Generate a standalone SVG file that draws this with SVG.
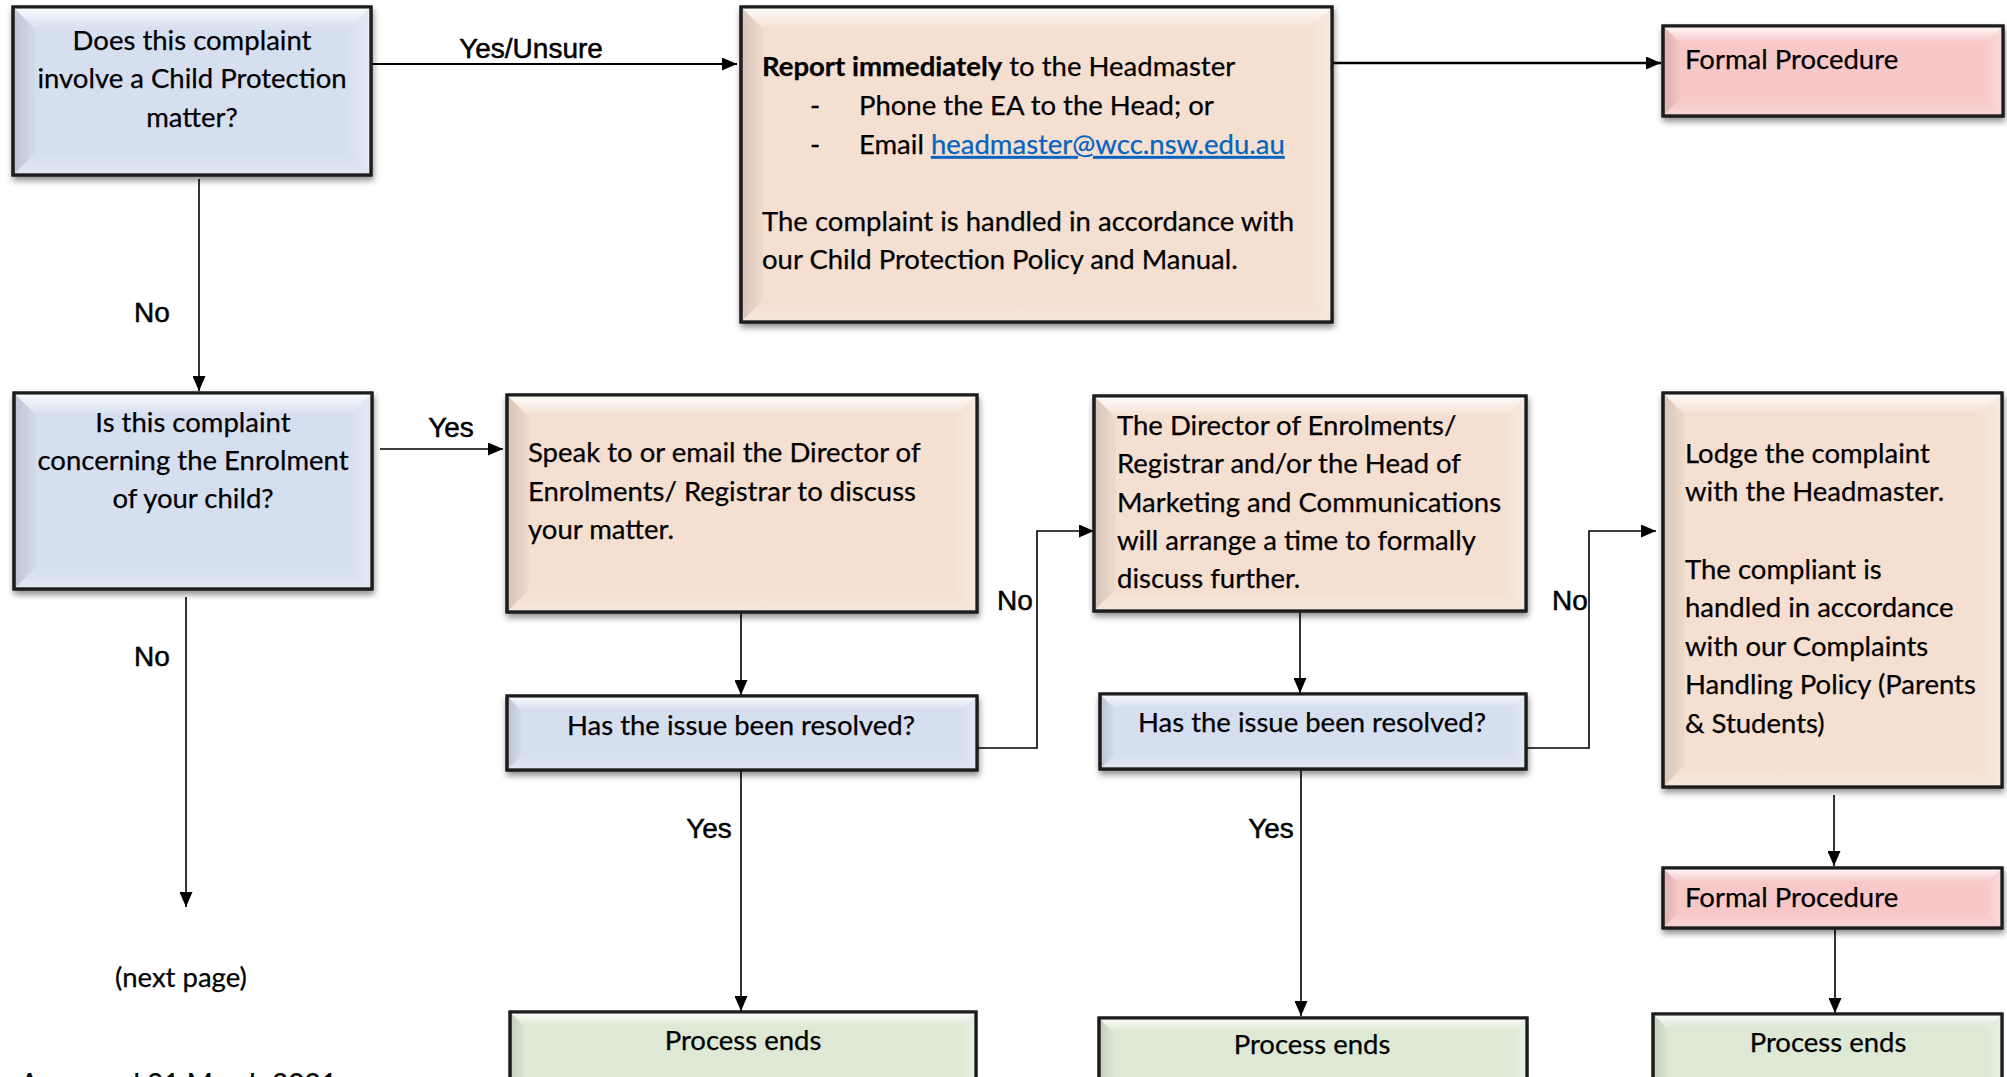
<svg xmlns="http://www.w3.org/2000/svg" width="2007" height="1077" viewBox="0 0 2007 1077">
<style>
.box{stroke:#1c1c1c;stroke-width:3;}
.blue{fill:#d6dff0;}
.peach{fill:#f4dfd0;}
.pink{fill:#f8c8c8;}
.green{fill:#dde9d5;}
.bt{fill:url(#gTop);}
.bl{fill:url(#gLeft);}
.br{fill:url(#gRight);}
.bb{fill:url(#gBot);}
.t{font-family:Lato,"Liberation Sans",sans-serif;font-size:27.5px;fill:#000;stroke:#000;stroke-width:0.25;}
.c{text-anchor:middle;}
.lbl{font-family:"Liberation Sans",Arial,sans-serif;font-size:28px;fill:#000;stroke:#000;stroke-width:0.5;text-anchor:middle;}
.ln{fill:none;stroke:#000;stroke-width:1.6;marker-end:url(#ah);}
.link{fill:#0563c1;stroke:#0563c1;text-decoration:underline;}
</style>
<defs>
<linearGradient id="gTop" x1="0" y1="0" x2="0" y2="1"><stop offset="0" stop-color="#fff" stop-opacity="0.9"/><stop offset="1" stop-color="#fff" stop-opacity="0"/></linearGradient>
<linearGradient id="gLeft" x1="0" y1="0" x2="1" y2="0"><stop offset="0" stop-color="#000" stop-opacity="0.12"/><stop offset="1" stop-color="#000" stop-opacity="0.02"/></linearGradient>
<linearGradient id="gRight" x1="1" y1="0" x2="0" y2="0"><stop offset="0" stop-color="#fff" stop-opacity="0.35"/><stop offset="1" stop-color="#fff" stop-opacity="0.05"/></linearGradient>
<linearGradient id="gBot" x1="0" y1="1" x2="0" y2="0"><stop offset="0" stop-color="#fff" stop-opacity="0.25"/><stop offset="1" stop-color="#fff" stop-opacity="0"/></linearGradient>
<filter id="sh" x="-5%" y="-5%" width="112%" height="125%"><feDropShadow dx="1" dy="4" stdDeviation="3" flood-color="#000" flood-opacity="0.45"/></filter>
<marker id="ah" markerWidth="15" markerHeight="13" refX="15" refY="6.5" orient="auto" markerUnits="userSpaceOnUse"><path d="M0,0 L15,6.5 L0,13 z" fill="#000"/></marker>
</defs>
<rect width="2007" height="1077" fill="#fff"/>

<g id="connectors">
<path class="ln" d="M371,64 H737" style="stroke-width:2"/>
<path class="ln" d="M1332,63 H1661" style="stroke-width:2.5"/>
<path class="ln" d="M199,179 V391"/>
<path class="ln" d="M380,449 H503"/>
<path class="ln" d="M186,597 V907"/>
<path class="ln" d="M741,612 V695"/>
<path class="ln" d="M977,748 H1037 V531 H1094"/>
<path class="ln" d="M741,770 V1011"/>
<path class="ln" d="M1300,611 V693"/>
<path class="ln" d="M1526,748 H1589 V531 H1656"/>
<path class="ln" d="M1301,769 V1016"/>
<path class="ln" d="M1834,795 V866"/>
<path class="ln" d="M1835,928 V1013"/>
<text class="lbl" x="531" y="58">Yes/Unsure</text>
<text class="lbl" x="152" y="322">No</text>
<text class="lbl" x="451" y="437">Yes</text>
<text class="lbl" x="152" y="666">No</text>
<text class="lbl" x="1015" y="610">No</text>
<text class="lbl" x="709" y="838">Yes</text>
<text class="lbl" x="1570" y="610">No</text>
<text class="lbl" x="1271" y="838">Yes</text>
</g>

<g id="nodeA">
<rect class="box blue" x="13" y="7" width="358" height="168" filter="url(#sh)"/>
<polygon class="bt" points="13,7 371,7 349,29 35,29"/>
<polygon class="bl" points="13,7 35,29 35,153 13,175"/>
<polygon class="br" points="371,7 371,175 349,153 349,29"/>
<polygon class="bb" points="13,175 35,153 349,153 371,175"/>
<rect x="13" y="7" width="358" height="168" fill="none" class="box"/>
<text class="t c" x="192" y="50">Does this complaint</text>
<text class="t c" x="192" y="88">involve a Child Protection</text>
<text class="t c" x="192" y="127">matter?</text>
</g>

<g id="nodeB">
<rect class="box peach" x="741" y="7" width="591" height="315" filter="url(#sh)"/>
<polygon class="bt" points="741,7 1332,7 1310,29 763,29"/>
<polygon class="bl" points="741,7 763,29 763,300 741,322"/>
<polygon class="br" points="1332,7 1332,322 1310,300 1310,29"/>
<polygon class="bb" points="741,322 763,300 1310,300 1332,322"/>
<rect x="741" y="7" width="591" height="315" fill="none" class="box"/>
<text class="t" x="762" y="76"><tspan font-weight="bold">Report immediately</tspan> to the Headmaster</text>
<text class="t" x="810" y="115">-</text>
<text class="t" x="859" y="115">Phone the EA to the Head; or</text>
<text class="t" x="810" y="154">-</text>
<text class="t" x="859" y="154">Email <tspan class="link">headmaster@wcc.nsw.edu.au</tspan></text>
<text class="t" x="762" y="231">The complaint is handled in accordance with</text>
<text class="t" x="762" y="269">our Child Protection Policy and Manual.</text>
</g>

<g id="nodeC">
<rect class="box pink" x="1663" y="26" width="340" height="90" filter="url(#sh)"/>
<polygon class="bt" points="1663,26 2003,26 1987,42 1679,42"/>
<polygon class="bl" points="1663,26 1679,42 1679,100 1663,116"/>
<polygon class="br" points="2003,26 2003,116 1987,100 1987,42"/>
<polygon class="bb" points="1663,116 1679,100 1987,100 2003,116"/>
<rect x="1663" y="26" width="340" height="90" fill="none" class="box"/>
<text class="t" x="1685" y="69">Formal Procedure</text>
</g>

<g id="nodeD">
<rect class="box blue" x="14" y="393" width="358" height="196" filter="url(#sh)"/>
<polygon class="bt" points="14,393 372,393 350,415 36,415"/>
<polygon class="bl" points="14,393 36,415 36,567 14,589"/>
<polygon class="br" points="372,393 372,589 350,567 350,415"/>
<polygon class="bb" points="14,589 36,567 350,567 372,589"/>
<rect x="14" y="393" width="358" height="196" fill="none" class="box"/>
<text class="t c" x="193" y="432">Is this complaint</text>
<text class="t c" x="193" y="470">concerning the Enrolment</text>
<text class="t c" x="193" y="508">of your child?</text>
</g>

<g id="nodeE">
<rect class="box peach" x="507" y="395" width="470" height="217" filter="url(#sh)"/>
<polygon class="bt" points="507,395 977,395 955,417 529,417"/>
<polygon class="bl" points="507,395 529,417 529,590 507,612"/>
<polygon class="br" points="977,395 977,612 955,590 955,417"/>
<polygon class="bb" points="507,612 529,590 955,590 977,612"/>
<rect x="507" y="395" width="470" height="217" fill="none" class="box"/>
<text class="t" x="528" y="462">Speak to or email the Director of</text>
<text class="t" x="528" y="501">Enrolments/ Registrar to discuss</text>
<text class="t" x="528" y="539">your matter.</text>
</g>

<g id="nodeF1">
<rect class="box blue" x="507" y="696" width="470" height="74" filter="url(#sh)"/>
<polygon class="bt" points="507,696 977,696 963,710 521,710"/>
<polygon class="bl" points="507,696 521,710 521,756 507,770"/>
<polygon class="br" points="977,696 977,770 963,756 963,710"/>
<polygon class="bb" points="507,770 521,756 963,756 977,770"/>
<rect x="507" y="696" width="470" height="74" fill="none" class="box"/>
<text class="t c" x="741" y="735">Has the issue been resolved?</text>
</g>

<g id="nodeH">
<rect class="box peach" x="1094" y="396" width="432" height="215" filter="url(#sh)"/>
<polygon class="bt" points="1094,396 1526,396 1504,418 1116,418"/>
<polygon class="bl" points="1094,396 1116,418 1116,589 1094,611"/>
<polygon class="br" points="1526,396 1526,611 1504,589 1504,418"/>
<polygon class="bb" points="1094,611 1116,589 1504,589 1526,611"/>
<rect x="1094" y="396" width="432" height="215" fill="none" class="box"/>
<text class="t" x="1117" y="435">The Director of Enrolments/</text>
<text class="t" x="1117" y="473">Registrar and/or the Head of</text>
<text class="t" x="1117" y="512">Marketing and Communications</text>
<text class="t" x="1117" y="550">will arrange a time to formally</text>
<text class="t" x="1117" y="588">discuss further.</text>
</g>

<g id="nodeF2">
<rect class="box blue" x="1100" y="694" width="426" height="75" filter="url(#sh)"/>
<polygon class="bt" points="1100,694 1526,694 1512,708 1114,708"/>
<polygon class="bl" points="1100,694 1114,708 1114,755 1100,769"/>
<polygon class="br" points="1526,694 1526,769 1512,755 1512,708"/>
<polygon class="bb" points="1100,769 1114,755 1512,755 1526,769"/>
<rect x="1100" y="694" width="426" height="75" fill="none" class="box"/>
<text class="t c" x="1312" y="732">Has the issue been resolved?</text>
</g>

<g id="nodeI">
<rect class="box peach" x="1663" y="393" width="339" height="394" filter="url(#sh)"/>
<polygon class="bt" points="1663,393 2002,393 1980,415 1685,415"/>
<polygon class="bl" points="1663,393 1685,415 1685,765 1663,787"/>
<polygon class="br" points="2002,393 2002,787 1980,765 1980,415"/>
<polygon class="bb" points="1663,787 1685,765 1980,765 2002,787"/>
<rect x="1663" y="393" width="339" height="394" fill="none" class="box"/>
<text class="t" x="1685" y="463">Lodge the complaint</text>
<text class="t" x="1685" y="501">with the Headmaster.</text>
<text class="t" x="1685" y="579">The compliant is</text>
<text class="t" x="1685" y="617">handled in accordance</text>
<text class="t" x="1685" y="656">with our Complaints</text>
<text class="t" x="1685" y="694">Handling Policy (Parents</text>
<text class="t" x="1685" y="733">&amp; Students)</text>
</g>

<g id="nodeJ">
<rect class="box pink" x="1663" y="868" width="339" height="60" filter="url(#sh)"/>
<polygon class="bt" points="1663,868 2002,868 1988,882 1677,882"/>
<polygon class="bl" points="1663,868 1677,882 1677,914 1663,928"/>
<polygon class="br" points="2002,868 2002,928 1988,914 1988,882"/>
<polygon class="bb" points="1663,928 1677,914 1988,914 2002,928"/>
<rect x="1663" y="868" width="339" height="60" fill="none" class="box"/>
<text class="t" x="1685" y="907">Formal Procedure</text>
</g>

<g id="nodeG1">
<rect class="box green" x="510" y="1012" width="466" height="80"/>
<polygon class="bt" points="510,1012 976,1012 962,1026 524,1026"/>
<polygon class="bl" points="510,1012 524,1026 524,1078 510,1092"/>
<polygon class="br" points="976,1012 976,1092 962,1078 962,1026"/>
<rect x="510" y="1012" width="466" height="80" fill="none" class="box"/>
<text class="t c" x="743" y="1050">Process ends</text>
</g>

<g id="nodeG2">
<rect class="box green" x="1099" y="1018" width="428" height="80"/>
<polygon class="bt" points="1099,1018 1527,1018 1513,1032 1113,1032"/>
<polygon class="bl" points="1099,1018 1113,1032 1113,1084 1099,1098"/>
<polygon class="br" points="1527,1018 1527,1098 1513,1084 1513,1032"/>
<rect x="1099" y="1018" width="428" height="80" fill="none" class="box"/>
<text class="t c" x="1312" y="1054">Process ends</text>
</g>

<g id="nodeK">
<rect class="box green" x="1653" y="1014" width="349" height="80"/>
<polygon class="bt" points="1653,1014 2002,1014 1988,1028 1667,1028"/>
<polygon class="bl" points="1653,1014 1667,1028 1667,1080 1653,1094"/>
<polygon class="br" points="2002,1014 2002,1094 1988,1080 1988,1028"/>
<rect x="1653" y="1014" width="349" height="80" fill="none" class="box"/>
<text class="t c" x="1828" y="1052">Process ends</text>
</g>

<text class="t c" x="181" y="987">(next page)</text>
<text class="t" x="20" y="1094" style="font-size:28px">Approved 31 March 2021</text>
</svg>
